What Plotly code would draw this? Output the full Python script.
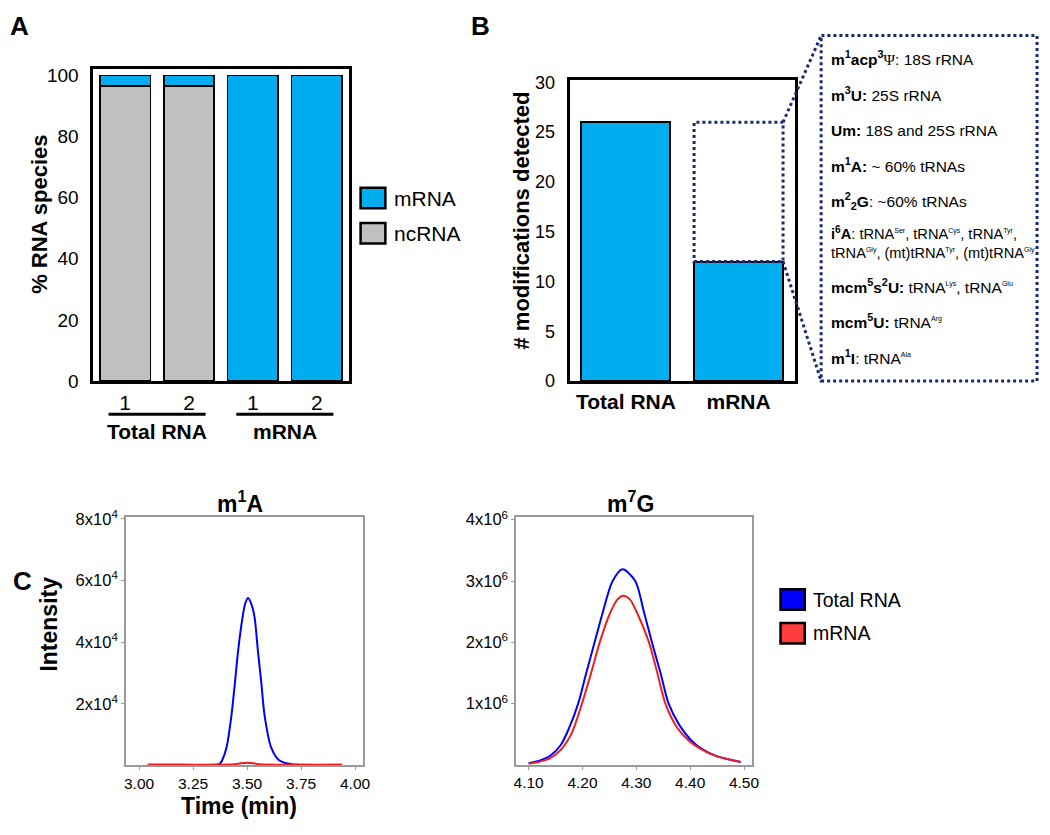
import re
import plotly.graph_objects as go

# The page body has an 8px margin, so the figure is drawn 8px in from the
# window's corner; all layout positions below are window pixels.
OFF = 8
W, H = 1050 - OFF, 835 - OFF

# ---------------- data ----------------
# Panel A: % RNA species per library replicate
a_positions = [0, 1, 2, 3]
a_replicates = ["1", "2", "1", "2"]
a_groups = ["Total RNA", "mRNA"]
a_group_centers = [0.5, 2.5]
a_ncrna = [96.5, 96.5, 0, 0]
a_mrna = [3.5, 3.5, 100, 100]
a_yticks = [0, 20, 40, 60, 80, 100]

# Panel B: number of modifications detected
b_positions = [0, 1]
b_categories = ["Total RNA", "mRNA"]
b_detected = [26, 12]
b_yticks = [0, 5, 10, 15, 20, 25, 30]
b_mod_names = ["m<sup>1</sup>acp<sup>3</sup>", "m<sup>3</sup>U:", "Um:", "m<sup>1</sup>A:",
               "m<sup>2</sup><sub>2</sub>G", "i<sup>6</sup>A", "mcm<sup>5</sup>s<sup>2</sup>U:",
               "mcm<sup>5</sup>U:", "m<sup>1</sup>I"]
b_mod_sites = ["~Ψ~: 18S rRNA", " 25S rRNA", " 18S and 25S rRNA", " ~ 60% tRNAs", ": ~60% tRNAs",
               ": tRNA^Ser, tRNA^Cys, tRNA^Tyr,<br>tRNA^Gly, (mt)tRNA^Tyr, (mt)tRNA^Gly",
               " tRNA^Lys, tRNA^Glu", " tRNA^Arg", ": tRNA^Ala"]

# Panel C: extracted ion chromatograms
c_m1a_time_total = [3.04, 3.20, 3.35, 3.372, 3.385, 3.405, 3.428, 3.444, 3.459, 3.479, 3.492, 3.505,
                    3.520, 3.535, 3.550, 3.566, 3.581, 3.612, 3.650, 3.700, 3.750, 3.940]
c_m1a_int_total = [200, 200, 200, 400, 1700, 5790, 16350, 26880, 37400, 47970, 52600, 54290,
                   52300, 47970, 37400, 26880, 16350, 5790, 1580, 450, 200, 200]
c_m1a_time_mrna = [3.04, 3.20, 3.35, 3.44, 3.47, 3.50, 3.53, 3.56, 3.65, 3.80, 3.94]
c_m1a_int_mrna = [200, 200, 200, 350, 700, 900, 700, 350, 200, 200, 200]

c_m7g_time_total = [4.100, 4.120, 4.140, 4.160, 4.175, 4.192, 4.207, 4.2225, 4.238, 4.256, 4.2745,
                    4.298, 4.314, 4.329, 4.345, 4.360, 4.380, 4.400, 4.420, 4.450, 4.494]
c_m7g_int_total = [0.03e6, 0.07e6, 0.15e6, 0.33e6, 0.60e6, 1.00e6, 1.50e6, 2.00e6, 2.50e6, 3.00e6, 3.19e6,
                   3.00e6, 2.50e6, 2.00e6, 1.50e6, 1.00e6, 0.65e6, 0.42e6, 0.27e6, 0.14e6, 0.05e6]
c_m7g_time_mrna = [4.100, 4.120, 4.140, 4.160, 4.180, 4.199, 4.216, 4.232, 4.250, 4.265, 4.2755,
                   4.288, 4.303, 4.3235, 4.339, 4.354, 4.375, 4.397, 4.420, 4.450, 4.494]
c_m7g_int_mrna = [0.02e6, 0.05e6, 0.11e6, 0.25e6, 0.52e6, 1.00e6, 1.50e6, 2.00e6, 2.45e6, 2.70e6, 2.76e6,
                  2.70e6, 2.45e6, 2.00e6, 1.50e6, 1.00e6, 0.62e6, 0.40e6, 0.26e6, 0.14e6, 0.05e6]
c_m1a_xticks = [3.00, 3.25, 3.50, 3.75, 4.00]
c_m1a_yticks = [2e4, 4e4, 6e4, 8e4]
c_m7g_xticks = [4.10, 4.20, 4.30, 4.40, 4.50]
c_m7g_yticks = [1e6, 2e6, 3e6, 4e6]
c_series = ["Total RNA", "mRNA"]

# ---------------- styling ----------------
FONT = "Liberation Sans, Arial, sans-serif"
CYAN = "#00AEEF"
GREY = "#C0C0C0"
BLUE = "#0000FF"
RED = "#F01E1E"
NAVY = "#1B2A6B"
AXGREY = "#9A9A9A"


def px(x):
    return (x - OFF) / W


def py(y):
    return 1 - (y - OFF) / H


fig = go.Figure()

# Panel A bars
fig.add_trace(go.Bar(x=a_positions, y=a_ncrna, name="ncRNA", width=0.79,
                     marker=dict(color=GREY, line=dict(color="black", width=1.5)),
                     xaxis="x", yaxis="y", showlegend=False))
fig.add_trace(go.Bar(x=a_positions, y=a_mrna, name="mRNA", width=0.79,
                     marker=dict(color=CYAN, line=dict(color="black", width=1.5)),
                     xaxis="x", yaxis="y", showlegend=False))

# Panel B bars
fig.add_trace(go.Bar(x=b_positions, y=b_detected, name="modifications", width=0.79,
                     marker=dict(color=CYAN, line=dict(color="black", width=2)),
                     xaxis="x2", yaxis="y2", showlegend=False))

# Panel C lines
fig.add_trace(go.Scatter(x=c_m1a_time_total, y=c_m1a_int_total, mode="lines", name=c_series[0],
                         line=dict(color=BLUE, width=2, shape="spline", smoothing=0.8),
                         xaxis="x3", yaxis="y3", showlegend=False))
fig.add_trace(go.Scatter(x=c_m1a_time_mrna, y=c_m1a_int_mrna, mode="lines", name=c_series[1],
                         line=dict(color=RED, width=2, shape="spline", smoothing=0.8),
                         xaxis="x3", yaxis="y3", showlegend=False))
fig.add_trace(go.Scatter(x=c_m7g_time_total, y=c_m7g_int_total, mode="lines", name=c_series[0],
                         line=dict(color=BLUE, width=2, shape="spline", smoothing=0.8),
                         xaxis="x4", yaxis="y4", showlegend=False))
fig.add_trace(go.Scatter(x=c_m7g_time_mrna, y=c_m7g_int_mrna, mode="lines", name=c_series[1],
                         line=dict(color=RED, width=2, shape="spline", smoothing=0.8),
                         xaxis="x4", yaxis="y4", showlegend=False))

common = dict(showgrid=False, zeroline=False, fixedrange=True)

# axis boxes in window pixels
A_X = (92, 350); A_Y = (61, 381); A_RANGE_X = [-0.5, 3.5]; A_RANGE_Y = [0, 102.2]
B_X = (573, 800.5); B_Y = (73, 381); B_RANGE_X = [-0.5, 1.5]; B_RANGE_Y = [0, 30.2]
C1_X = (125, 364); C1_Y = (520, 775)
C2_X = (519, 757.5); C2_Y = (520, 774.5)


def sup_label(v):
    mant, exp = f"{v:.0e}".split("e")
    return f"{mant}x10<sup>{int(exp)}</sup>"


fig.update_layout(
    width=W, height=H,
    margin=dict(l=0, r=0, t=0, b=0),
    paper_bgcolor="white", plot_bgcolor="white",
    barmode="stack",
    font=dict(family=FONT, color="black"),
    xaxis=dict(domain=[px(A_X[0]), px(A_X[1])], range=A_RANGE_X, anchor="y",
               tickvals=a_positions, ticktext=a_replicates, ticks="", ticklabelstandoff=1,
               tickfont=dict(size=21), showline=True, mirror=True, linecolor="black", linewidth=2.5, **common),
    yaxis=dict(domain=[py(A_Y[1]), py(A_Y[0])], range=A_RANGE_Y, anchor="x",
               tickvals=a_yticks, ticks="", ticklabelstandoff=8,
               tickfont=dict(size=19), showline=True, mirror=True, linecolor="black", linewidth=2.5, **common),
    xaxis2=dict(domain=[px(B_X[0]), px(B_X[1])], range=B_RANGE_X, anchor="y2",
                tickvals=b_positions, ticktext=[f"<b>{c}</b>" for c in b_categories], ticks="",
                ticklabelstandoff=0, tickfont=dict(size=21),
                showline=True, mirror=True, linecolor="black", linewidth=3, **common),
    yaxis2=dict(domain=[py(B_Y[1]), py(B_Y[0])], range=B_RANGE_Y, anchor="x2",
                tickvals=b_yticks, ticks="", ticklabelstandoff=8, tickfont=dict(size=18),
                showline=True, mirror=True, linecolor="black", linewidth=3, **common),
    xaxis3=dict(domain=[px(C1_X[0]), px(C1_X[1])], range=[2.939, 4.035], anchor="y3",
                tickvals=c_m1a_xticks, ticktext=[f"{v:.2f}" for v in c_m1a_xticks],
                ticks="outside", ticklen=3, tickcolor=AXGREY, tickfont=dict(size=15.5),
                showline=True, mirror=True, linecolor=AXGREY, linewidth=1.5, **common),
    yaxis3=dict(domain=[py(C1_Y[1]), py(C1_Y[0])], range=[0, 80700], anchor="x3",
                tickvals=c_m1a_yticks, ticktext=[sup_label(v) for v in c_m1a_yticks],
                ticks="outside", ticklen=3, tickcolor=AXGREY, tickfont=dict(size=16.5),
                showline=True, mirror=True, linecolor=AXGREY, linewidth=1.5, **common),
    xaxis4=dict(domain=[px(C2_X[0]), px(C2_X[1])], range=[4.0767, 4.5154], anchor="y4",
                tickvals=c_m7g_xticks, ticktext=[f"{v:.2f}" for v in c_m7g_xticks],
                ticks="outside", ticklen=3, tickcolor=AXGREY, tickfont=dict(size=15.5),
                showline=True, mirror=True, linecolor=AXGREY, linewidth=1.5, **common),
    yaxis4=dict(domain=[py(C2_Y[1]), py(C2_Y[0])], range=[0, 4.05e6], anchor="x4",
                tickvals=c_m7g_yticks, ticktext=[sup_label(v) for v in c_m7g_yticks],
                ticks="outside", ticklen=3, tickcolor=AXGREY, tickfont=dict(size=16.5),
                showline=True, mirror=True, linecolor=AXGREY, linewidth=1.5, **common),
)

ann = []
shapes = []


def text(x, y, s, size, bold=False, angle=0, xanchor="center", color="black"):
    ann.append(dict(x=px(x), y=py(y), xref="paper", yref="paper", text=f"<b>{s}</b>" if bold else s,
                    showarrow=False, textangle=angle, xanchor=xanchor, yanchor="middle", align="left",
                    font=dict(size=size, color=color, family=FONT)))


# panel letters
text(17.5, 17, "A", 26, bold=True)
text(483, 17, "B", 26, bold=True)
text(21, 586, "C", 26, bold=True)

# Panel A annotations
text(37, 210, "% RNA species", 22, bold=True, angle=-90)
for g, c in zip(a_groups, a_group_centers):
    ann.append(dict(x=c, y=py(433), xref="x", yref="paper", text=f"<b>{g}</b>", showarrow=False,
                    xanchor="center", yanchor="middle", font=dict(size=21, family=FONT)))
    shapes.append(dict(type="line", xref="x", yref="paper", x0=c - 0.76, x1=c + 0.76,
                       y0=py(415), y1=py(415), line=dict(color="black", width=3)))
# legend A
for (label, col), yc in zip([("mRNA", CYAN), ("ncRNA", GREY)], [193.5, 229.5]):
    shapes.append(dict(type="rect", xref="paper", yref="paper", x0=px(362), x1=px(387),
                       y0=py(yc - 10.5), y1=py(yc + 10.5), fillcolor=col, line=dict(color="black", width=2.5)))
    text(394, yc, label, 21, xanchor="left")

# Panel B annotations
text(524, 216.5, "# modifications detected", 22, bold=True, angle=-90)


def b_to_paper(xv, yv):
    xp = B_X[0] + (xv - B_RANGE_X[0]) / (B_RANGE_X[1] - B_RANGE_X[0]) * (B_X[1] - B_X[0])
    yp = B_Y[1] - (yv - B_RANGE_Y[0]) / (B_RANGE_Y[1] - B_RANGE_Y[0]) * (B_Y[1] - B_Y[0])
    return px(xp), py(yp)


half = 0.79 / 2
shapes.append(dict(type="rect", xref="x2", yref="y2", x0=b_positions[1] - half, x1=b_positions[1] + half,
                   y0=b_detected[1], y1=b_detected[0], line=dict(color=NAVY, width=3, dash="dot")))
BOX = (827, 27, 1045, 381)
shapes.append(dict(type="rect", xref="paper", yref="paper", x0=px(BOX[0]), x1=px(BOX[2]),
                   y0=py(BOX[3]), y1=py(BOX[1]), line=dict(color=NAVY, width=3, dash="dot")))
tx, ty = b_to_paper(b_positions[1] + half, b_detected[0])
shapes.append(dict(type="line", xref="paper", yref="paper", x0=tx, y0=ty, x1=px(BOX[0]), y1=py(BOX[1]),
                   line=dict(color=NAVY, width=3, dash="dot")))
bx, by = b_to_paper(b_positions[1] + half, b_detected[1])
shapes.append(dict(type="line", xref="paper", yref="paper", x0=bx, y0=by, x1=px(BOX[0]), y1=py(BOX[3]),
                   line=dict(color=NAVY, width=3, dash="dot")))

row_y = [50, 87, 124, 160, 197, 239.5, 284, 320, 356]
for name, site, yv in zip(b_mod_names, b_mod_sites, row_y):
    site_html = re.sub(r"\^(\w+)", r'<sup><span style="font-size:7px">\1</span></sup>', site)
    site_html = re.sub(r"~Ψ~", r'<span style="font-family:Liberation Serif, serif">Ψ</span>', site_html)
    size = 14.6 if "<br>" in site_html else 15.5
    text(835, yv, f"<b>{name}</b>{site_html}", size, xanchor="left")

# Panel C annotations
text(240, 505, "m<sup>1</sup>A", 23, bold=True)
text(635, 505, "m<sup>7</sup>G", 23, bold=True)
text(47, 630, "Intensity", 23, bold=True, angle=-90)
text(239, 817, "Time (min)", 23, bold=True)
for (label, col), yc in zip([(c_series[0], BLUE), (c_series[1], "#FF3C3C")], [605, 639.5]):
    shapes.append(dict(type="rect", xref="paper", yref="paper", x0=px(786), x1=px(810.5),
                       y0=py(yc - 10.5), y1=py(yc + 10.5), fillcolor=col, line=dict(color="black", width=2.5)))
    text(817, yc, label, 19.5, xanchor="left")

fig.update_layout(annotations=ann, shapes=shapes)
fig.write_html("out.html", config={"displayModeBar": False})
